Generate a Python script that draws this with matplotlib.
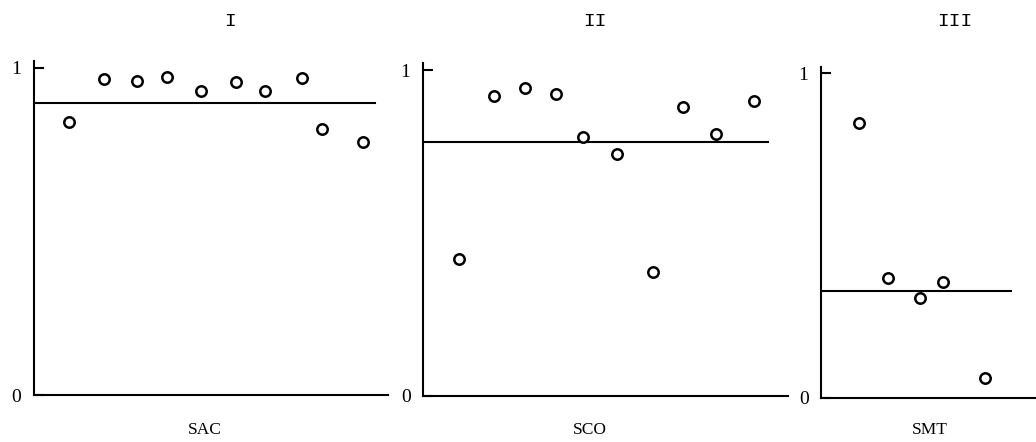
import matplotlib.pyplot as plt

# panel titles and group labels
romans = ["I", "II", "III"]
groups = ["SAC", "SCO", "SMT"]

x_sac = [1.06, 2.12, 3.12, 4.03, 5.06, 6.12, 7.0, 8.12, 8.73, 9.97]
y_sac = [0.835, 0.966, 0.960, 0.972, 0.930, 0.957, 0.930, 0.969, 0.813, 0.774]
mean_sac = 0.893

x_sco = [1.09, 2.15, 3.09, 4.03, 4.85, 5.88, 6.97, 7.88, 8.88, 10.03]
y_sco = [0.420, 0.920, 0.945, 0.926, 0.794, 0.742, 0.380, 0.887, 0.804, 0.905]
mean_sco = 0.779

x_smt = [1.15, 2.03, 3.0, 3.7, 4.97]
y_smt = [0.846, 0.369, 0.308, 0.357, 0.062]
mean_smt = 0.329

W, H = 1036, 442
fig = plt.figure(figsize=(W / 100, H / 100), dpi=100)

# pixel layout: axis x, right end of bottom line, y of 0, y of 1, mean line end
panels = [
    (34, 388, 395, 68, 10.33, x_sac, y_sac, mean_sac),
    (423, 788, 396, 70, 10.45, x_sco, y_sco, mean_sco),
    (821, 1036, 398, 73, 5.76, x_smt, y_smt, mean_smt),
]
unit = 33.0
top = 1.02

for i, (ax_px, right_px, y0, y1, mend, xs, ys, m) in enumerate(panels):
    scale = y0 - y1
    ax = fig.add_axes([ax_px / W, (H - y0) / H, (right_px - ax_px) / W, scale * top / H])
    ax.set_xlim(0, (right_px - ax_px) / unit)
    ax.set_ylim(0, top)
    for s in ["top", "right"]:
        ax.spines[s].set_visible(False)
    for s in ["left", "bottom"]:
        ax.spines[s].set_linewidth(1.5)
    ax.set_xticks([])
    ax.set_yticks([0, 1])
    ax.set_yticklabels(["0", "1"], fontsize=14, family="Liberation Serif")
    ax.tick_params(axis="y", direction="in", length=7, width=1.5, pad=9)
    ax.plot([0, mend], [m, m], color="black", lw=1.5)
    ax.plot(xs, ys, "o", mfc="white", mec="black", ms=7.5, mew=1.8, ls="none")
    ax.patch.set_alpha(0)

    fig.text([230, 595, 955][i] / W, 1 - 22 / H, romans[i], ha="center", va="center",
             fontsize=14, family="Liberation Mono")
    fig.text([205, 590, 930][i] / W, 1 - 430 / H, groups[i], ha="center", va="center",
             fontsize=12.5, family="Liberation Serif")

fig.savefig("out.png", dpi=100)
